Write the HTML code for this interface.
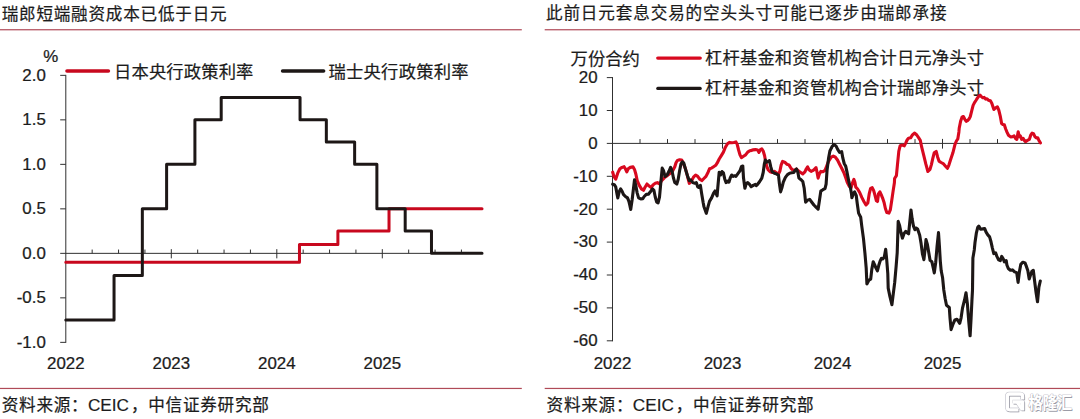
<!DOCTYPE html>
<html><head><meta charset="utf-8"><title>chart</title>
<style>html,body{margin:0;padding:0;background:#fff;}body{width:1080px;height:419px;overflow:hidden;}svg{display:block;position:absolute;left:0;top:0;font-family:"Liberation Sans","Noto Sans CJK SC",sans-serif;}</style>
</head><body>
<svg width="1080" height="419" viewBox="0 0 1080 419">
<rect width="1080" height="419" fill="#ffffff"/>
<rect x="0" y="29.15" width="521.8" height="1.2" fill="#b04a58"/>
<rect x="544.7" y="29.15" width="536" height="1.2" fill="#b04a58"/>
<rect x="0" y="387.85" width="521.8" height="1.2" fill="#b04a58"/>
<rect x="544.7" y="387.85" width="536" height="1.2" fill="#b04a58"/>
<text x="1.68" y="19.5" font-size="16.6" text-anchor="start" fill="#1c1c1c" stroke="#1c1c1c" stroke-width="0.22" textLength="224.9" lengthAdjust="spacing">瑞郎短端融资成本已低于日元</text>
<text x="545.93" y="19.4" font-size="16.6" text-anchor="start" fill="#1c1c1c" stroke="#1c1c1c" stroke-width="0.22" textLength="400.7" lengthAdjust="spacing">此前日元套息交易的空头头寸可能已逐步由瑞郎承接</text>
<text x="1.76" y="411" font-size="16.6" text-anchor="start" fill="#1c1c1c" stroke="#1c1c1c" stroke-width="0.22" textLength="85.9" lengthAdjust="spacing">资料来源：</text>
<text transform="translate(87.95 410.6) scale(1.0 1)" font-size="17.2" text-anchor="start" fill="#1c1c1c" stroke="#1c1c1c" stroke-width="0.2" >CEIC</text>
<text x="130.92" y="411" font-size="16.6" text-anchor="start" fill="#1c1c1c" stroke="#1c1c1c" stroke-width="0.22" textLength="137.9" lengthAdjust="spacing">，中信证券研究部</text>
<text x="546.57" y="411" font-size="16.6" text-anchor="start" fill="#1c1c1c" stroke="#1c1c1c" stroke-width="0.22" textLength="85.9" lengthAdjust="spacing">资料来源：</text>
<text transform="translate(632.7500000000002 410.6) scale(1.0 1)" font-size="17.2" text-anchor="start" fill="#1c1c1c" stroke="#1c1c1c" stroke-width="0.2" >CEIC</text>
<text x="675.72" y="411" font-size="16.6" text-anchor="start" fill="#1c1c1c" stroke="#1c1c1c" stroke-width="0.22" textLength="137.9" lengthAdjust="spacing">，中信证券研究部</text>
<path d="M65.8 74.85V342.85" stroke="#303030" stroke-width="1" fill="none"/>
<path d="M60.2 253.35H482" stroke="#303030" stroke-width="1" fill="none"/>
<path d="M60.2 75.35H65.8" stroke="#303030" stroke-width="1"/>
<path d="M60.2 119.85H65.8" stroke="#303030" stroke-width="1"/>
<path d="M60.2 164.35H65.8" stroke="#303030" stroke-width="1"/>
<path d="M60.2 208.85H65.8" stroke="#303030" stroke-width="1"/>
<path d="M60.2 297.85H65.8" stroke="#303030" stroke-width="1"/>
<path d="M60.2 342.35H65.8" stroke="#303030" stroke-width="1"/>
<text transform="translate(45.8 80.55) scale(1.055 1)" font-size="16" text-anchor="end" fill="#1c1c1c" stroke="#1c1c1c" stroke-width="0.25" >2.0</text>
<text transform="translate(45.8 125.05) scale(1.055 1)" font-size="16" text-anchor="end" fill="#1c1c1c" stroke="#1c1c1c" stroke-width="0.25" >1.5</text>
<text transform="translate(45.8 169.54999999999998) scale(1.055 1)" font-size="16" text-anchor="end" fill="#1c1c1c" stroke="#1c1c1c" stroke-width="0.25" >1.0</text>
<text transform="translate(45.8 214.04999999999998) scale(1.055 1)" font-size="16" text-anchor="end" fill="#1c1c1c" stroke="#1c1c1c" stroke-width="0.25" >0.5</text>
<text transform="translate(45.8 258.55) scale(1.055 1)" font-size="16" text-anchor="end" fill="#1c1c1c" stroke="#1c1c1c" stroke-width="0.25" >0.0</text>
<text transform="translate(45.8 303.05) scale(1.055 1)" font-size="16" text-anchor="end" fill="#1c1c1c" stroke="#1c1c1c" stroke-width="0.25" >-0.5</text>
<text transform="translate(45.8 347.55) scale(1.055 1)" font-size="16" text-anchor="end" fill="#1c1c1c" stroke="#1c1c1c" stroke-width="0.25" >-1.0</text>
<text transform="translate(43.2 62.4) scale(1.055 1)" font-size="16" text-anchor="start" fill="#1c1c1c" stroke="#1c1c1c" stroke-width="0.25" >%</text>
<path d="M92.17 249.54999999999998V253.35" stroke="#303030" stroke-width="1"/>
<path d="M118.55 249.54999999999998V253.35" stroke="#303030" stroke-width="1"/>
<path d="M144.93 249.54999999999998V253.35" stroke="#303030" stroke-width="1"/>
<path d="M171.30 249.15V258.35" stroke="#303030" stroke-width="1"/>
<path d="M197.68 249.54999999999998V253.35" stroke="#303030" stroke-width="1"/>
<path d="M224.05 249.54999999999998V253.35" stroke="#303030" stroke-width="1"/>
<path d="M250.43 249.54999999999998V253.35" stroke="#303030" stroke-width="1"/>
<path d="M276.80 249.15V258.35" stroke="#303030" stroke-width="1"/>
<path d="M303.18 249.54999999999998V253.35" stroke="#303030" stroke-width="1"/>
<path d="M329.55 249.54999999999998V253.35" stroke="#303030" stroke-width="1"/>
<path d="M355.93 249.54999999999998V253.35" stroke="#303030" stroke-width="1"/>
<path d="M382.30 249.15V258.35" stroke="#303030" stroke-width="1"/>
<path d="M408.68 249.54999999999998V253.35" stroke="#303030" stroke-width="1"/>
<path d="M435.05 249.54999999999998V253.35" stroke="#303030" stroke-width="1"/>
<path d="M461.43 249.54999999999998V253.35" stroke="#303030" stroke-width="1"/>
<text transform="translate(65.8 369.3) scale(1.055 1)" font-size="16" text-anchor="middle" fill="#1c1c1c" stroke="#1c1c1c" stroke-width="0.25" >2022</text>
<text transform="translate(171.3 369.3) scale(1.055 1)" font-size="16" text-anchor="middle" fill="#1c1c1c" stroke="#1c1c1c" stroke-width="0.25" >2023</text>
<text transform="translate(276.8 369.3) scale(1.055 1)" font-size="16" text-anchor="middle" fill="#1c1c1c" stroke="#1c1c1c" stroke-width="0.25" >2024</text>
<text transform="translate(382.3 369.3) scale(1.055 1)" font-size="16" text-anchor="middle" fill="#1c1c1c" stroke="#1c1c1c" stroke-width="0.25" >2025</text>
<path d="M65.80 262.25H299.47V244.45H337.89V231.10H389.02V208.85H482.02" stroke="#c8081e" stroke-width="3" fill="none" stroke-linejoin="round" stroke-linecap="round"/>
<path d="M65.80 320.10H114.04V275.60H142.34V208.85H166.61V164.35H194.91V119.85H221.20V97.60H300.05V119.85H326.34V142.10H354.64V164.35H376.88V208.85H405.19V231.10H431.48V253.35H482.02" stroke="#1d1716" stroke-width="3" fill="none" stroke-linejoin="round" stroke-linecap="round"/>
<path d="M67 71H108.4" stroke="#c8081e" stroke-width="3.6" stroke-linecap="round"/>
<text x="114.06" y="77.5" font-size="17.3" text-anchor="start" fill="#1c1c1c" stroke="#1c1c1c" stroke-width="0.22" textLength="139.3" lengthAdjust="spacing">日本央行政策利率</text>
<path d="M282.6 71H323.6" stroke="#1d1716" stroke-width="3.6" stroke-linecap="round"/>
<text x="328.43" y="77.5" font-size="17.3" text-anchor="start" fill="#1c1c1c" stroke="#1c1c1c" stroke-width="0.22" textLength="140.2" lengthAdjust="spacing">瑞士央行政策利率</text>
<path d="M612.5 77.10000000000001V341.3" stroke="#303030" stroke-width="1" fill="none"/>
<path d="M606.8 143.4H1040" stroke="#303030" stroke-width="1" fill="none"/>
<path d="M606.8 77.60H612.5" stroke="#303030" stroke-width="1"/>
<path d="M606.8 110.50H612.5" stroke="#303030" stroke-width="1"/>
<path d="M606.8 176.30H612.5" stroke="#303030" stroke-width="1"/>
<path d="M606.8 209.20H612.5" stroke="#303030" stroke-width="1"/>
<path d="M606.8 242.10H612.5" stroke="#303030" stroke-width="1"/>
<path d="M606.8 275.00H612.5" stroke="#303030" stroke-width="1"/>
<path d="M606.8 307.90H612.5" stroke="#303030" stroke-width="1"/>
<path d="M606.8 340.80H612.5" stroke="#303030" stroke-width="1"/>
<text transform="translate(597.6 82.9) scale(1.055 1)" font-size="16" text-anchor="end" fill="#1c1c1c" stroke="#1c1c1c" stroke-width="0.25" >20</text>
<text transform="translate(597.6 115.8) scale(1.055 1)" font-size="16" text-anchor="end" fill="#1c1c1c" stroke="#1c1c1c" stroke-width="0.25" >10</text>
<text transform="translate(597.6 148.70000000000002) scale(1.055 1)" font-size="16" text-anchor="end" fill="#1c1c1c" stroke="#1c1c1c" stroke-width="0.25" >0</text>
<text transform="translate(597.6 181.60000000000002) scale(1.055 1)" font-size="16" text-anchor="end" fill="#1c1c1c" stroke="#1c1c1c" stroke-width="0.25" >-10</text>
<text transform="translate(597.6 214.5) scale(1.055 1)" font-size="16" text-anchor="end" fill="#1c1c1c" stroke="#1c1c1c" stroke-width="0.25" >-20</text>
<text transform="translate(597.6 247.40000000000003) scale(1.055 1)" font-size="16" text-anchor="end" fill="#1c1c1c" stroke="#1c1c1c" stroke-width="0.25" >-30</text>
<text transform="translate(597.6 280.3) scale(1.055 1)" font-size="16" text-anchor="end" fill="#1c1c1c" stroke="#1c1c1c" stroke-width="0.25" >-40</text>
<text transform="translate(597.6 313.2) scale(1.055 1)" font-size="16" text-anchor="end" fill="#1c1c1c" stroke="#1c1c1c" stroke-width="0.25" >-50</text>
<text transform="translate(597.6 346.1) scale(1.055 1)" font-size="16" text-anchor="end" fill="#1c1c1c" stroke="#1c1c1c" stroke-width="0.25" >-60</text>
<path d="M640.00 139.1V143.4" stroke="#303030" stroke-width="1"/>
<path d="M667.50 139.1V143.4" stroke="#303030" stroke-width="1"/>
<path d="M695.00 139.1V143.4" stroke="#303030" stroke-width="1"/>
<path d="M722.50 138.9V148.6" stroke="#303030" stroke-width="1"/>
<path d="M750.00 139.1V143.4" stroke="#303030" stroke-width="1"/>
<path d="M777.50 139.1V143.4" stroke="#303030" stroke-width="1"/>
<path d="M805.00 139.1V143.4" stroke="#303030" stroke-width="1"/>
<path d="M832.50 138.9V148.6" stroke="#303030" stroke-width="1"/>
<path d="M860.00 139.1V143.4" stroke="#303030" stroke-width="1"/>
<path d="M887.50 139.1V143.4" stroke="#303030" stroke-width="1"/>
<path d="M915.00 139.1V143.4" stroke="#303030" stroke-width="1"/>
<path d="M942.50 138.9V148.6" stroke="#303030" stroke-width="1"/>
<path d="M970.00 139.1V143.4" stroke="#303030" stroke-width="1"/>
<path d="M997.50 139.1V143.4" stroke="#303030" stroke-width="1"/>
<path d="M1025.00 139.1V143.4" stroke="#303030" stroke-width="1"/>
<text transform="translate(612.5 369.3) scale(1.055 1)" font-size="16" text-anchor="middle" fill="#1c1c1c" stroke="#1c1c1c" stroke-width="0.25" >2022</text>
<text transform="translate(722.5 369.3) scale(1.055 1)" font-size="16" text-anchor="middle" fill="#1c1c1c" stroke="#1c1c1c" stroke-width="0.25" >2023</text>
<text transform="translate(832.5 369.3) scale(1.055 1)" font-size="16" text-anchor="middle" fill="#1c1c1c" stroke="#1c1c1c" stroke-width="0.25" >2024</text>
<text transform="translate(942.5 369.3) scale(1.055 1)" font-size="16" text-anchor="middle" fill="#1c1c1c" stroke="#1c1c1c" stroke-width="0.25" >2025</text>
<text x="570.62" y="65.4" font-size="17.3" text-anchor="start" fill="#1c1c1c" stroke="#1c1c1c" stroke-width="0.22" textLength="69.3" lengthAdjust="spacing">万份合约</text>
<path d="M657.8 58.1H700.2" stroke="#d8091f" stroke-width="3.4" stroke-linecap="round"/>
<text x="705.07" y="64" font-size="17.3" text-anchor="start" fill="#1c1c1c" stroke="#1c1c1c" stroke-width="0.22" textLength="278.9" lengthAdjust="spacing">杠杆基金和资管机构合计日元净头寸</text>
<path d="M657.8 88.4H700.2" stroke="#1d1716" stroke-width="3.2" stroke-linecap="round"/>
<text x="705.07" y="94" font-size="17.3" text-anchor="start" fill="#1c1c1c" stroke="#1c1c1c" stroke-width="0.22" textLength="278.9" lengthAdjust="spacing">杠杆基金和资管机构合计瑞郎净头寸</text>
<path d="M612.7 172.2L613.9 176.4L615.7 179.2L617.8 172.9L619.9 168.8L622.0 167.4L624.1 166.7L625.4 168.8L626.8 171.9L628.2 168.8L630.3 167.4L633.1 166.9L634.5 169.4L635.9 174.3L637.2 180.6L639.3 185.4L641.4 188.9L643.5 190.3L644.9 187.5L647.0 184.0L649.1 186.1L651.1 187.5L653.2 184.7L655.3 183.3L657.4 182.6L659.5 184.0L661.6 180.6L664.3 177.8L667.1 175.7L669.9 173.6L672.7 170.8L674.8 166.7L676.1 162.5L677.5 160.4L679.6 159.7L681.7 160.0L683.1 162.5L685.2 168.1L686.6 172.9L687.9 177.8L689.3 183.3L691.4 181.2L693.5 177.1L695.6 175.0L697.7 176.4L699.8 179.2L701.8 180.6L703.9 178.5L706.0 176.4L708.1 172.2L709.5 168.8L711.6 168.1L713.6 166.7L715.7 165.3L717.1 163.2L719.2 159.0L721.3 155.6L723.4 152.1L725.4 147.2L727.5 143.8L729.6 142.4L731.7 142.8L733.8 142.4L735.9 141.9L737.2 144.4L738.6 150.0L740.0 154.9L741.4 157.6L743.5 156.2L745.6 154.9L747.7 152.1L749.8 150.7L751.8 150.4L752.8 149.9L755.6 149.6L757.6 150.0L759.0 152.4L760.4 149.6L761.8 148.9L763.2 151.0L764.6 155.8L765.6 161.4L766.7 166.2L768.1 169.7L770.1 171.8L772.2 172.5L774.3 171.4L776.4 172.8L778.5 174.2L779.9 171.1L781.2 164.9L782.6 161.4L784.7 162.1L786.8 164.2L788.9 164.9L791.0 168.3L792.4 169.7L794.4 170.4L796.5 169.0L798.6 171.1L800.7 172.5L802.8 173.9L804.9 171.8L806.2 169.0L807.6 166.9L809.0 169.7L811.1 171.4L813.2 170.4L814.6 169.0L816.0 167.6L817.1 172.5L818.1 178.1L819.4 173.9L820.8 171.4L822.9 171.8L825.0 170.4L826.4 166.9L828.5 161.4L831.2 157.2L833.3 156.1L835.4 157.2L837.5 160.0L839.6 164.2L841.7 168.3L843.8 172.5L845.8 178.1L847.2 182.2L849.3 186.4L851.1 187.8L852.5 182.9L853.9 179.4L854.9 182.2L855.8 187.1L857.6 189.0L859.7 192.5L861.8 197.4L863.9 201.5L866.0 205.0L867.8 202.9L869.2 193.9L870.6 188.3L872.2 187.6L873.6 190.4L875.0 195.3L876.4 200.8L877.5 201.5L878.5 193.9L879.9 191.8L881.2 194.6L882.6 198.1L884.0 202.2L885.4 208.5L886.8 212.6L888.9 213.1L890.3 209.9L891.7 200.8L893.1 191.1L894.4 182.8L894.6 178.5L896.4 175.7L897.4 165.3L898.8 151.4L900.1 145.8L902.2 145.1L904.3 145.8L905.7 143.1L907.1 140.0L908.5 138.2L910.6 137.8L912.6 134.7L914.7 133.1L916.8 135.0L918.9 138.2L920.3 140.3L921.7 147.2L923.8 155.6L925.8 163.9L927.9 171.5L930.0 169.4L931.4 164.6L932.8 158.3L934.2 152.8L936.2 151.4L937.6 156.9L939.0 161.1L941.1 162.5L943.2 163.6L945.3 166.0L947.4 168.3L948.8 165.3L950.8 159.0L952.9 152.8L955.0 144.4L956.4 141.0L957.8 138.9L958.9 131.9L959.2 128.3L960.6 121.3L962.0 117.2L963.4 116.5L964.8 119.2L966.1 121.3L967.5 120.6L968.9 119.2L970.3 116.5L971.7 110.9L973.1 105.4L974.5 102.6L975.9 100.5L977.2 98.4L978.6 96.3L980.0 95.2L981.4 96.6L982.8 97.7L984.2 97.4L985.6 99.1L987.0 98.8L988.4 100.2L990.4 100.8L991.8 103.3L993.2 107.4L993.9 109.5L995.3 108.1L997.4 106.8L998.8 110.2L1000.2 115.8L1001.6 123.4L1002.9 124.4L1004.3 124.8L1005.7 129.0L1007.1 132.4L1008.5 135.2L1010.6 136.9L1012.7 136.6L1014.1 135.9L1015.7 138.7L1016.8 139.4L1018.2 131.8L1019.3 136.6L1020.3 135.9L1021.7 139.4L1023.1 138.3L1024.5 140.8L1025.9 141.5L1027.9 140.1L1029.3 139.4L1030.7 135.2L1032.1 133.1L1033.5 133.6L1034.9 136.6L1036.3 138.0L1037.7 137.7L1039.1 140.8L1040.4 142.9" stroke="#d8091f" stroke-width="3.1" fill="none" stroke-linejoin="round" stroke-linecap="round"/>
<path d="M612.7 184.2L614.3 184.7L615.7 186.8L617.1 194.4L617.8 197.9L619.2 191.7L620.6 188.9L622.0 191.0L623.4 194.4L625.4 196.5L627.5 197.9L628.9 201.4L629.9 205.6L630.7 209.4L632.1 200.0L633.1 191.7L634.5 179.9L635.9 186.1L637.2 193.1L638.6 197.9L640.7 198.9L642.8 198.6L644.2 196.5L646.3 194.4L648.4 194.2L650.4 191.7L652.5 188.9L653.9 190.3L655.3 197.2L656.7 202.1L658.1 202.8L659.5 197.2L660.9 181.9L662.2 168.1L663.6 170.8L665.0 176.4L667.1 175.0L669.2 170.8L670.6 167.4L672.0 170.8L673.4 177.8L674.8 182.6L676.8 184.0L678.2 179.2L679.6 170.8L681.0 163.9L682.4 161.8L683.8 163.2L685.2 168.1L686.6 172.9L687.9 177.1L689.3 180.6L690.7 179.9L692.8 182.6L694.9 183.3L696.3 182.6L697.7 186.8L699.1 187.5L700.4 185.4L701.8 194.4L703.2 202.8L703.9 206.4L706.3 213.3L708.1 206.4L709.5 201.4L711.6 197.9L713.6 193.1L715.0 191.0L716.4 194.4L717.1 195.8L717.8 187.5L719.2 172.2L720.6 175.0L722.0 171.5L723.4 172.9L724.8 179.2L726.1 182.6L727.5 181.2L728.9 182.2L730.3 177.8L731.7 175.0L733.1 176.4L734.5 175.7L735.9 176.4L737.9 173.6L740.0 170.8L741.4 166.7L742.8 166.0L743.5 177.8L744.9 188.2L746.3 183.3L747.7 182.6L749.8 184.7L751.1 186.8L753.2 185.4L755.3 184.4L756.2 185.7L757.6 184.3L759.7 181.5L761.8 178.1L763.2 172.5L764.3 164.2L765.3 160.0L766.7 162.1L768.1 161.4L769.4 160.7L770.8 166.9L772.2 171.8L774.3 173.2L776.4 173.9L778.5 175.3L779.4 183.6L780.6 191.9L781.9 187.8L783.3 182.2L785.4 177.4L787.5 174.6L789.6 173.2L791.7 172.8L793.8 172.5L795.1 170.4L796.5 169.0L797.9 172.5L798.9 178.1L800.7 179.4L802.8 181.5L804.2 188.3L805.6 202.2L807.6 200.1L809.7 199.4L811.8 202.2L813.9 205.0L816.0 207.1L818.1 209.2L819.4 200.8L820.8 191.1L822.9 189.7L825.0 188.6L826.1 184.2L827.1 169.7L828.5 158.6L829.9 151.0L831.9 146.8L834.0 144.4L836.1 146.1L837.8 149.6L839.6 152.4L841.7 151.7L842.8 157.9L844.2 163.5L845.7 166.2L846.8 171.1L847.9 176.7L849.0 182.2L850.4 187.8L851.4 193.2L851.9 197.8L853.3 193.9L854.6 191.9L856.2 195.3L857.2 203.3L858.6 213.1L860.7 217.2L861.7 225.6L863.5 238.9L864.9 252.8L866.2 268.1L866.9 283.9L869.0 280.1L870.7 279.2L871.8 269.4L873.2 261.8L874.6 264.6L876.0 268.1L877.4 270.8L878.8 265.3L880.1 261.1L881.5 258.3L882.9 259.0L884.3 256.9L885.7 249.3L886.7 259.7L887.8 273.6L888.2 288.1L889.9 296.4L891.9 304.7L893.3 293.6L894.7 282.5L896.1 266.7L897.2 252.8L898.2 221.4L899.6 225.6L901.0 232.5L902.4 238.1L904.2 233.2L905.8 231.4L907.2 232.8L908.6 233.9L909.7 222.8L911.0 210.0L912.1 218.6L913.5 226.2L914.9 229.7L916.2 228.1L917.6 229.0L919.7 235.3L921.1 243.6L922.5 254.2L923.9 259.7L925.0 250.0L926.0 239.6L927.4 244.4L928.8 252.8L930.1 260.4L931.9 261.8L933.3 268.1L934.3 272.9L935.7 262.5L937.1 245.8L938.5 232.6L939.4 245.8L940.3 261.1L941.2 270.8L942.6 277.8L943.8 290.0L945.1 298.3L946.5 305.3L949.3 307.4L950.0 317.8L951.1 329.6L952.8 324.7L954.9 319.9L956.9 319.2L958.3 321.2L959.7 323.3L961.1 317.8L962.5 308.1L964.6 299.7L966.0 292.8L967.4 303.9L968.8 321.9L970.1 335.8L971.1 317.8L971.9 301.1L972.5 290.0L972.9 258.1L974.3 249.7L975.0 242.5L976.4 232.8L977.8 227.2L978.8 226.1L980.6 229.3L982.6 228.9L984.7 228.6L986.1 232.1L987.8 234.9L989.6 236.9L991.0 241.8L992.4 248.1L993.8 253.6L995.6 252.9L996.9 256.4L998.6 259.9L1000.3 260.6L1001.7 256.4L1003.1 258.5L1004.4 261.9L1006.2 260.6L1006.9 265.0L1008.3 268.5L1010.4 270.3L1012.5 269.9L1014.6 271.9L1016.7 272.6L1018.1 282.4L1019.4 271.9L1020.8 264.3L1022.9 262.2L1025.0 262.9L1026.4 266.4L1027.8 270.6L1029.2 278.9L1030.6 274.7L1031.9 271.2L1033.3 270.3L1034.7 281.7L1036.1 292.8L1037.5 301.8L1038.9 287.2L1040.3 281.0" stroke="#1d1716" stroke-width="3.1" fill="none" stroke-linejoin="round" stroke-linecap="round"/>
<g transform="translate(0.2 0.2)" opacity="0.75"><path d="M1022.6 399.5V396.2Q1022.6 394 1020.4 394H1009.6Q1007.4 394 1007.4 396.2V407.6Q1007.4 409.8 1009.6 409.8H1018.5M1013 402H1022.6V410.5M1017.5 402.5L1022.3 409.5" fill="none" stroke="#c2c2cc" stroke-width="4.6" stroke-linejoin="round" stroke-linecap="butt"/><text transform="translate(1028.2 409) scale(0.83 1)" font-size="17.6" font-weight="bold" fill="#c2c2cc" stroke="#c2c2cc" stroke-width="1.1" stroke-linejoin="round">格隆汇</text></g><g transform="translate(0.8 0.8)" opacity="0.8"><path d="M1022.6 399.5V396.2Q1022.6 394 1020.4 394H1009.6Q1007.4 394 1007.4 396.2V407.6Q1007.4 409.8 1009.6 409.8H1018.5M1013 402H1022.6V410.5M1017.5 402.5L1022.3 409.5" fill="none" stroke="#8e8e9a" stroke-width="3.3" stroke-linejoin="round" stroke-linecap="butt"/><text transform="translate(1028.2 409) scale(0.83 1)" font-size="17.6" font-weight="bold" fill="#8e8e9a">格隆汇</text></g><g transform="translate(-0.5 -0.5)" opacity="0.6"><path d="M1022.6 399.5V396.2Q1022.6 394 1020.4 394H1009.6Q1007.4 394 1007.4 396.2V407.6Q1007.4 409.8 1009.6 409.8H1018.5M1013 402H1022.6V410.5M1017.5 402.5L1022.3 409.5" fill="none" stroke="#b0b0ba" stroke-width="3.3" stroke-linejoin="round" stroke-linecap="butt"/><text transform="translate(1028.2 409) scale(0.83 1)" font-size="17.6" font-weight="bold" fill="#b0b0ba">格隆汇</text></g><g transform="translate(0 0)" opacity="1"><path d="M1022.6 399.5V396.2Q1022.6 394 1020.4 394H1009.6Q1007.4 394 1007.4 396.2V407.6Q1007.4 409.8 1009.6 409.8H1018.5M1013 402H1022.6V410.5M1017.5 402.5L1022.3 409.5" fill="none" stroke="#ffffff" stroke-width="3.3" stroke-linejoin="round" stroke-linecap="butt"/><text transform="translate(1028.2 409) scale(0.83 1)" font-size="17.6" font-weight="bold" fill="#ffffff">格隆汇</text></g>
</svg>
</body></html>
